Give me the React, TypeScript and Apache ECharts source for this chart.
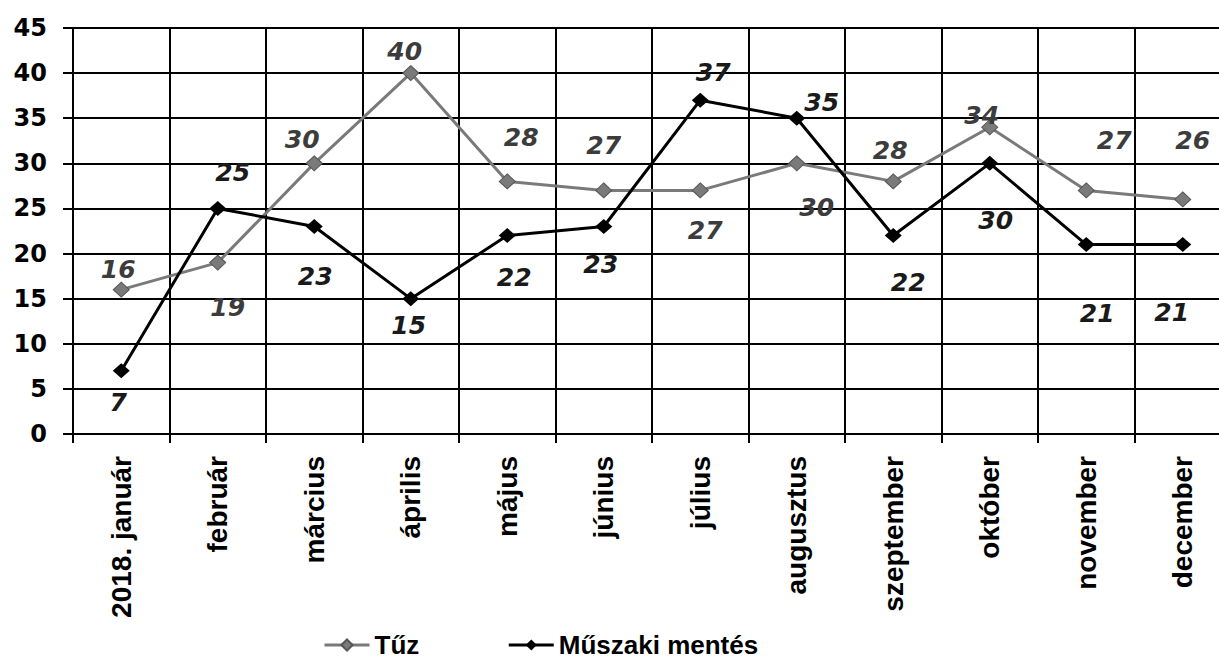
import React, { useEffect, useRef } from "react";
import * as echarts from "echarts";

const categories = [
  "2018. január",
  "február",
  "március",
  "április",
  "május",
  "június",
  "július",
  "augusztus",
  "szeptember",
  "október",
  "november",
  "december",
];
const tuzValues = [16, 19, 30, 40, 28, 27, 27, 30, 28, 34, 27, 26];
const muszakiValues = [7, 25, 23, 15, 22, 23, 37, 35, 22, 30, 21, 21];
const seriesNames = ["Tűz", "Műszaki mentés"];
const yMin = 0;
const yMax = 45;
const yInterval = 5;

// label placement (pixel offsets from the point, style only)
const tuzLabelOffsets = [
  [-3, -20], [10, 45], [-12, -24], [-6, -22], [14, -44], [0, -45],
  [5, 40], [20, 44], [-3, -31], [-8, -12], [28, -50], [10, -59],
];
const muszakiLabelOffsets = [
  [-3, 32], [15, -36], [1, 50], [-2, 27], [7, 42], [-3, 38],
  [13, -28], [25, -16], [15, 47], [6, 57], [11, 69], [-11, 68],
];

export default function App() {
  const ref = useRef<HTMLDivElement>(null);
  useEffect(() => {
    if (!ref.current) return;
    const chart = echarts.init(ref.current, null, { renderer: "svg" });
    const labelBase = {
      show: true,
      position: "inside",
      fontFamily: "DejaVu Sans",
      fontStyle: "italic",
      fontWeight: "bold",
      fontSize: 25,
    };
    chart.setOption({
      animation: false,
      backgroundColor: "#ffffff",
      grid: { left: 73, top: 28, width: 1158, height: 406, containLabel: false },
      legend: {
        left: 318,
        top: 626,
        itemWidth: 45,
        itemHeight: 14,
        itemGap: 88,
        lineStyle: { width: 3 },
        textStyle: {
          fontFamily: "Liberation Sans",
          fontWeight: "bold",
          fontSize: 26,
          lineHeight: 28,
          color: "#000",
        },
        data: seriesNames,
      },
      xAxis: {
        type: "category",
        data: categories,
        boundaryGap: true,
        axisLine: { show: true, lineStyle: { color: "#000", width: 2 } },
        axisTick: { show: true, length: 9, interval: 0, lineStyle: { color: "#000", width: 2 } },
        splitLine: { show: true, interval: 0, lineStyle: { color: "#000", width: 2 } },
        axisLabel: {
          interval: 0,
          rotate: 90,
          margin: 22,
          fontFamily: "Liberation Sans",
          fontWeight: "bold",
          fontSize: 28,
          color: "#000",
        },
      },
      yAxis: {
        type: "value",
        min: yMin,
        max: yMax,
        interval: yInterval,
        axisLine: { show: true, lineStyle: { color: "#000", width: 2 } },
        axisTick: { show: true, length: 10, lineStyle: { color: "#000", width: 2 } },
        splitLine: { show: true, lineStyle: { color: "#000", width: 2 } },
        axisLabel: {
          margin: 26,
          fontFamily: "DejaVu Sans",
          fontWeight: "bold",
          fontSize: 24,
          color: "#000",
        },
      },
      series: [
        {
          name: seriesNames[0],
          type: "line",
          symbol: "diamond",
          symbolSize: [16, 15],
          itemStyle: { color: "#7a7a7a", borderColor: "#555", borderWidth: 1 },
          lineStyle: { color: "#7a7a7a", width: 3 },
          label: { ...labelBase, color: "#3c3c3c" },
          data: tuzValues.map((v, i) => ({ value: v, label: { offset: tuzLabelOffsets[i] } })),
        },
        {
          name: seriesNames[1],
          type: "line",
          symbol: "diamond",
          symbolSize: [17, 15],
          itemStyle: { color: "#000" },
          lineStyle: { color: "#000", width: 3 },
          label: { ...labelBase, color: "#1a1a1a" },
          data: muszakiValues.map((v, i) => ({ value: v, label: { offset: muszakiLabelOffsets[i] } })),
        },
      ],
    });
    return () => chart.dispose();
  }, []);
  return (
    <div
      style={{ position: "absolute", left: 0, top: 0, width: 1219, height: 663, overflow: "hidden", background: "#fff" }}
    >
      <div ref={ref} style={{ width: 1240, height: 663 }} />
    </div>
  );
}
